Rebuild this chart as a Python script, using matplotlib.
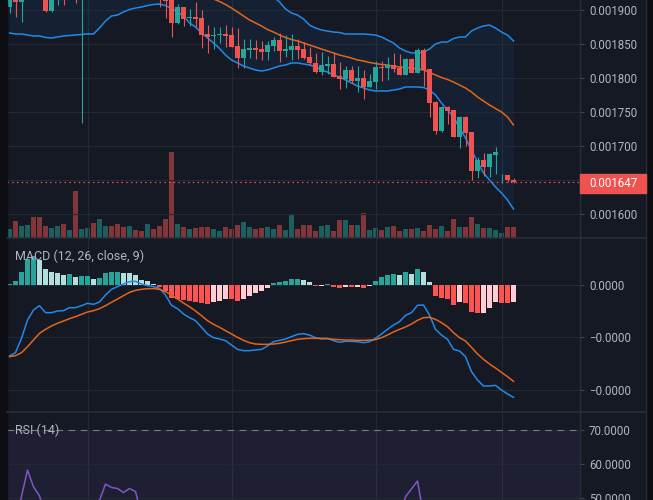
import numpy as np
import matplotlib.pyplot as plt
from matplotlib.patches import Rectangle
from matplotlib.lines import Line2D

plt.rcParams['font.family'] = ['Roboto', 'DejaVu Sans']

# ---- data (prices in units of 1e-6) ----
opens = [1904.9, 1920, 1912.2, 1925, 1930, 1932, 1925, 1898.5, 1920, 1926,
         1921, 1926, 1920, 1925, 1934, 1928, 1940, 1948, 1944, 1940,
         1936, 1946, 1942, 1938, 1944, 1930, 1925, 1916, 1880.4, 1904.4,
         1887.7, 1889.7, 1888.2, 1865.2, 1861.3, 1862.7, 1865.2, 1863.7, 1847.1, 1829.9,
         1841.7, 1844.1, 1842.6, 1838.7, 1847.1, 1855.9, 1840.2, 1841.2, 1847.5, 1842.6,
         1831.4, 1822.6, 1809.3, 1818.1, 1820.6, 1803.0, 1799.0, 1811.8, 1796.1, 1800.0,
         1787.2, 1794.6, 1816.2, 1815.2, 1819.1, 1814.7, 1804.9, 1827.9, 1807.8, 1841.2,
         1812.7, 1765.2, 1722.0, 1757.8, 1753.0, 1713.7, 1743.1, 1720.6, 1663.7, 1679.4,
         1669.6, 1687.2, 1655.4, 1657.3, 1649.5]
highs = [1922, 1925, 1924, 1935, 1936, 1938, 1930, 1926, 1930, 1930,
         1930, 1930, 1930, 1938, 1940, 1945, 1952, 1954, 1950, 1946,
         1952, 1950, 1948, 1950, 1948, 1935, 1930, 1920, 1908.8, 1905,
         1901.5, 1911.8, 1900.0, 1877.9, 1875.0, 1875.0, 1877.9, 1875.5, 1874.0, 1857.3,
         1857.3, 1855.9, 1854.4, 1854.4, 1860.8, 1865.7, 1863.2, 1864.7, 1857.3, 1852.4,
         1846.1, 1837.2, 1837.7, 1832.3, 1837.7, 1823.5, 1818.1, 1817.6, 1817.6, 1811.3,
         1805.9, 1824.5, 1825.0, 1831.4, 1837.2, 1835.3, 1828.9, 1828.9, 1843.6, 1843.6,
         1813.7, 1766.7, 1758.8, 1758.8, 1753.5, 1744.1, 1744.1, 1721.0, 1683.3, 1689.2,
         1689.2, 1698.5, 1658.8, 1657.3, 1652.4]
lows = [1896.1, 1890.2, 1882.8, 1918, 1920, 1921, 1897.5, 1897.5, 1907.8, 1907.8,
        1916, 1910.8, 1734.3, 1918, 1922, 1924, 1935, 1938, 1934, 1930,
        1932, 1936, 1932, 1934, 1930, 1904.9, 1888.7, 1860.8, 1879.4, 1877.0,
        1876.5, 1875.5, 1844.6, 1837.2, 1843.1, 1851.0, 1846.1, 1845.1, 1815.2, 1815.2,
        1829.9, 1827.4, 1826.5, 1826.5, 1839.7, 1824.0, 1830.4, 1826.5, 1827.4, 1827.4,
        1819.1, 1807.8, 1804.4, 1805.4, 1802.0, 1784.3, 1785.8, 1793.1, 1779.9, 1768.6,
        1786.3, 1784.3, 1795.6, 1797.1, 1809.3, 1804.9, 1804.9, 1806.9, 1806.9, 1788.2,
        1743.1, 1717.6, 1721.1, 1732.3, 1712.7, 1697.5, 1700.5, 1650.0, 1653.4, 1656.4,
        1654.9, 1658.8, 1645.6, 1646.6, 1645.0]
closes = [1918, 1912.2, 1920, 1930, 1928, 1926, 1898.5, 1922, 1926, 1921,
          1925, 1920, 1924, 1932, 1928, 1940, 1948, 1944, 1940, 1936,
          1946, 1942, 1938, 1944, 1936, 1922, 1913.2, 1881.4, 1904.4, 1886.8,
          1889.7, 1887.3, 1863.2, 1860.8, 1863.7, 1865.2, 1862.2, 1846.1, 1829.9, 1842.6,
          1844.1, 1841.7, 1838.7, 1848.5, 1855.9, 1839.7, 1842.6, 1847.5, 1841.2, 1829.9,
          1821.6, 1809.3, 1819.1, 1820.6, 1802.0, 1799.0, 1811.8, 1796.1, 1800.0, 1787.2,
          1796.1, 1816.2, 1814.7, 1819.1, 1813.2, 1804.9, 1827.9, 1806.9, 1841.2, 1811.8,
          1763.7, 1722.5, 1757.8, 1752.0, 1713.7, 1743.1, 1719.6, 1663.7, 1679.4, 1669.6,
          1688.2, 1691.2, 1656.4, 1650.0, 1647.0]
volume = [28, 52, 37, 40, 64, 64, 37, 31, 37, 43,
          25, 142, 28, 31, 46, 58, 37, 37, 43, 34,
          37, 25, 22, 43, 28, 37, 58, 259, 43, 34,
          28, 31, 34, 34, 28, 22, 34, 28, 40, 49,
          34, 28, 31, 34, 28, 40, 25, 70, 28, 40,
          40, 22, 37, 40, 22, 55, 55, 40, 40, 76,
          25, 31, 25, 34, 37, 22, 28, 28, 31, 22,
          40, 28, 37, 22, 58, 34, 34, 64, 43, 31,
          31, 25, 16, 34, 34]
bb_upper = [2000, 2002, 2004, 2006, 2008, 2010, 2012, 2014, 2015, 2016,
            2016, 2016, 2016, 2015, 2014, 2014, 2013, 2012, 2011, 2010,
            2008, 2006, 2004, 2002, 2000, 1998, 1996, 1993, 1990, 1986,
            1982, 1978, 1973, 1968, 1963, 1958, 1953, 1948, 1944, 1940,
            1936, 1932, 1928, 1924, 1919.1, 1911.8, 1901.5, 1895.6, 1892.6, 1886.8,
            1877.9, 1873.5, 1870.6, 1869.1, 1867.6, 1866.9, 1864.7, 1864.7, 1864.7, 1864.7,
            1864.0, 1863.2, 1860.3, 1855.9, 1851.5, 1844.1, 1839.7, 1836.8, 1836.8, 1838.2,
            1842.6, 1850.0, 1852.9, 1852.9, 1858.1, 1860.3, 1860.3, 1869.1, 1873.5, 1876.5,
            1877.9, 1873.5, 1867.6, 1863.2, 1854.4]
bb_basis = [1935, 1936, 1937, 1938, 1939, 1940, 1940, 1941, 1942, 1942,
            1943, 1943, 1944, 1944, 1945, 1946, 1947, 1948, 1949, 1950,
            1950, 1951, 1951, 1950, 1949, 1947, 1944, 1940, 1936, 1932,
            1929, 1926, 1923, 1920, 1916.2, 1912.5, 1908.1, 1902.9, 1897.1, 1891.2,
            1885.3, 1880.9, 1876.5, 1871.3, 1867.6, 1863.2, 1859.6, 1856.6, 1854.4, 1851.5,
            1848.5, 1845.6, 1842.6, 1839.7, 1836.8, 1833.8, 1831.6, 1829.4, 1826.5, 1825.0,
            1822.8, 1821.3, 1819.8, 1819.1, 1817.6, 1816.2, 1815.4, 1814.7, 1813.2, 1811.8,
            1808.1, 1804.4, 1800.7, 1797.8, 1794.1, 1789.7, 1785.3, 1779.4, 1772.1, 1766.2,
            1760.3, 1755.1, 1750.0, 1742.6, 1730.9]
bb_lower = [1866.2, 1864.7, 1864.7, 1863.2, 1861.8, 1861.8, 1859.6, 1858.8, 1860.3, 1861.8,
            1862.5, 1863.2, 1864.0, 1864.7, 1864.7, 1873.5, 1883.8, 1891.2, 1892.6, 1897.1,
            1900.7, 1902.9, 1904.4, 1906.6, 1908.1, 1908.8, 1906.6, 1902.2, 1897.1, 1891.2,
            1880.9, 1875.0, 1866.2, 1858.8, 1851.5, 1843.4, 1833.8, 1826.5, 1822.1, 1817.6,
            1814.7, 1811.8, 1810.3, 1811.8, 1814.7, 1817.6, 1819.1, 1822.1, 1822.1, 1820.6,
            1819.1, 1816.2, 1811.8, 1808.8, 1804.4, 1801.5, 1797.1, 1792.6, 1788.2, 1785.3,
            1782.3, 1780.9, 1780.9, 1780.9, 1782.3, 1783.8, 1786.8, 1786.8, 1786.8, 1786.0,
            1782.3, 1775.0, 1763.2, 1752.9, 1742.6, 1726.5, 1711.8, 1694.1, 1676.5, 1660.3,
            1650.0, 1639.7, 1630.9, 1620.6, 1607.3]
# MACD values in units of 1e-6
macd_hist = [0.19, 0.76, 2.48, 4.95, 5.52, 4.76, 3.05, 2.48, 2.29, 1.91,
             2.10, 1.52, 1.71, 1.75, 1.14, 1.33, 2.29, 2.48, 2.52, 2.29,
             2.29, 1.91, 0.95, 0.76, 0.19, -0.38, -1.14, -2.48, -2.67, -2.86,
             -3.05, -3.24, -3.43, -3.62, -3.24, -3.05, -2.67, -2.75, -3.05, -2.67,
             -2.10, -1.52, -1.14, -0.57, 0.38, 0.57, 0.76, 1.14, 1.20, 0.95,
             0.57, -0.15, -0.10, 0.19, -0.38, -0.57, -0.38, -0.42, -0.36, -0.57,
             -0.13, 0.76, 1.52, 1.91, 2.10, 1.91, 2.48, 2.10, 3.05, 2.48,
             0.57, -2.10, -2.48, -2.67, -3.81, -3.24, -3.37, -5.14, -5.33, -5.25,
             -4.38, -3.24, -3.43, -3.50, -3.24]
macd_line = [-13.53, -12.89, -10.16, -6.67, -4.76, -3.94, -5.27, -5.27, -4.95, -4.89,
             -4.32, -4.32, -3.94, -3.49, -3.68, -3.24, -1.91, -0.83, -0.32, 0.19,
             0.64, 0.70, 0.19, -0.13, -0.32, -0.64, -1.91, -3.87, -4.51, -5.52,
             -6.22, -6.79, -8.06, -9.33, -10.03, -10.29, -10.60, -11.43, -12.26, -12.51,
             -12.51, -12.38, -12.26, -11.62, -10.80, -10.54, -10.29, -9.84, -9.40, -9.27,
             -9.53, -10.03, -10.29, -10.16, -10.60, -10.92, -10.73, -10.73, -10.80, -10.99,
             -10.80, -10.16, -9.33, -8.45, -7.62, -6.99, -5.78, -5.27, -3.87, -3.81,
             -5.72, -8.45, -9.53, -10.35, -12.26, -12.57, -13.65, -16.51, -18.10, -19.24,
             -19.24, -19.11, -20.00, -20.76, -21.40]
macd_signal = [-13.65, -13.46, -12.89, -11.75, -10.48, -9.21, -8.45, -7.81, -7.30, -6.86,
               -6.41, -6.03, -5.59, -5.14, -4.89, -4.51, -3.94, -3.30, -2.67, -2.03,
               -1.40, -1.02, -0.83, -0.70, -0.70, -0.83, -1.27, -1.91, -2.67, -3.43,
               -4.13, -4.95, -5.84, -6.79, -7.49, -8.06, -8.70, -9.33, -9.97, -10.54,
               -10.99, -11.24, -11.30, -11.30, -11.24, -11.11, -10.86, -10.60, -10.35, -10.22,
               -10.16, -10.16, -10.16, -10.22, -10.35, -10.41, -10.48, -10.48, -10.54, -10.54,
               -10.48, -10.41, -10.03, -9.53, -8.95, -8.45, -8.00, -7.43, -6.73, -6.22,
               -6.16, -6.54, -7.18, -7.94, -9.08, -10.03, -10.67, -11.87, -13.14, -14.16,
               -15.05, -15.81, -16.64, -17.46, -18.35]
rsi = [42, 42, 50.5, 58.2, 53.3, 50.6, 45, 44, 43, 42,
       41, 40, 43, 44, 45, 49.3, 54.1, 53.1, 52.8, 51.6,
       52.8, 51.9, 45, 44, 42, 40, 38, 33, 37, 35,
       36, 35, 31, 30, 31, 33, 32, 29, 27, 32,
       33, 32, 31, 33, 36, 34, 35, 37, 35, 33,
       31, 28, 31, 32, 29, 27, 31, 29, 32, 30,
       33, 38, 39, 41, 40, 44, 50.4, 52.7, 55.0, 45,
       34, 27, 33, 31, 26, 31, 29, 22, 26, 25,
       28, 30, 25, 24, 23]
last_price = 1647.0
price_ticks = [1600, 1650, 1700, 1750, 1800, 1850, 1900]
macd_ticks = [0, -10, -20]
macd_labels = ['0.0000', '\u22120.0000', '\u22120.0000']
rsi_ticks = [50, 60, 70]
vgrid_idx = [13, 37, 61, 82]

# ---- style ----
BG = '#151924'
GRID = '#242833'
TXT = '#b2b5be'
UP, DOWN = '#26a69a', '#ef5350'

sc = 1e-6
o, h, l, c = (np.array(a) * sc for a in (opens, highs, lows, closes))
x = np.arange(len(o))
up = c >= o

W, H = 653, 500
fig = plt.figure(figsize=(W / 100, H / 100), dpi=100, facecolor=BG)


def box(x0, y0, x1, y1):
    return [x0 / W, 1 - y1 / H, (x1 - x0) / W, (y1 - y0) / H]


ax_p = fig.add_axes(box(7, 0, 580, 238))
ax_m = fig.add_axes(box(7, 238, 580, 412))
ax_r = fig.add_axes(box(7, 412, 580, 500))

# volume sits on a twin axis behind the candles
ax_v = ax_p.twinx()
ax_p.set_zorder(ax_v.get_zorder() + 1)
ax_v.patch.set_visible(True)
ax_v.set_facecolor(BG)

for ax in (ax_p, ax_m, ax_r):
    ax.set_facecolor(BG)
    for s in ax.spines.values():
        s.set_visible(False)
    ax.set_xlim(-0.4167, 95.083)
    ax.set_xticks([])
    ax.yaxis.tick_right()
    ax.tick_params(axis='y', colors='#434651', labelcolor=TXT, labelsize=8.3,
                   length=3, pad=3.5, width=0.8)
    ax.grid(axis='y', color=GRID, lw=0.9)
    for k in vgrid_idx:
        ax.axvline(k, color=GRID, lw=0.9, zorder=0)
ax_p.patch.set_visible(False)

ax_v.bar(x, volume, width=0.83, color=np.where(up, UP, DOWN), alpha=0.5, lw=0)
ax_v.set_ylim(0, 714)
ax_v.set_xlim(-0.4167, 95.083)
ax_v.set_xticks([])
ax_v.set_yticks([])
for s in ax_v.spines.values():
    s.set_visible(False)

# bollinger bands
up_b = np.array(bb_upper) * sc
mid_b = np.array(bb_basis) * sc
lo_b = np.array(bb_lower) * sc
ax_p.fill_between(x, lo_b, up_b, color='#2196f3', alpha=0.07, lw=0)
ax_p.plot(x, up_b, color='#2388e8', lw=1.1)
ax_p.plot(x, lo_b, color='#2388e8', lw=1.1)
ax_p.plot(x, mid_b, color='#e3651b', lw=1.1)

# candles
cols = np.where(up, UP, DOWN)
ax_p.vlines(x, l, h, colors=cols, lw=0.8, zorder=3)
body_lo = np.minimum(o, c)
body_h = np.maximum(np.abs(c - o), 0.9 * sc)
ax_p.bar(x, body_h, bottom=body_lo, width=0.83, color=cols, lw=0, zorder=4)

ax_p.axhline(last_price * sc, color=DOWN, lw=0.9, ls=(0, (1.2, 2.6)), zorder=5)
ax_p.set_ylim(1564.7 * sc, 1914.7 * sc)
ax_p.set_yticks(np.array(price_ticks) * sc)
# the 0.001650 label sits under the last-price tag, so leave it blank
ax_p.set_yticklabels(['' if t == 1650 else f'{t * sc:.6f}' for t in price_ticks])

# MACD
hist = np.array(macd_hist)
prev = np.concatenate([[hist[0] - 1], hist[:-1]])
hcols = np.where(hist >= 0, np.where(hist > prev, '#26a69a', '#b2dfdb'),
                 np.where(hist < prev, '#ff5252', '#ffcdd2'))
ax_m.bar(x, hist * sc, width=0.83, color=hcols, lw=0, zorder=2)
ax_m.plot(x, np.array(macd_line) * sc, color='#2388e8', lw=1.1, zorder=3)
ax_m.plot(x, np.array(macd_signal) * sc, color='#e3651b', lw=1.1, zorder=3)
ax_m.set_ylim(-24.19 * sc, 8.95 * sc)
ax_m.set_yticks(np.array(macd_ticks) * sc)
ax_m.set_yticklabels(macd_labels)
ax_m.text(8 / 573, 1 - 18 / 174, 'MACD (12, 26, close, 9)', transform=ax_m.transAxes,
          color=TXT, fontsize=9, va='center', ha='left')

# RSI
ax_r.axhspan(30, 70, color='#7e57c2', alpha=0.1, lw=0)
ax_r.axhline(70, color='#787b86', lw=0.8, ls=(0, (6, 5)))
ax_r.plot(x, rsi, color='#7e57c2', lw=1.1)
ax_r.set_ylim(49.41, 75.29)
ax_r.set_yticks(rsi_ticks)
ax_r.set_yticklabels([f'{t:.4f}' for t in rsi_ticks])
ax_r.text(8 / 573, 1 - 18 / 88, 'RSI (14)', transform=ax_r.transAxes,
          color=TXT, fontsize=9, va='center', ha='left')

# frame lines and side strips
fig.patches.append(Rectangle((0, 0), 7 / W, 1, transform=fig.transFigure,
                             color='#0c0e13', zorder=1))
fig.patches.append(Rectangle((646 / W, 0), 7 / W, 1, transform=fig.transFigure,
                             color='#0c0e13', zorder=1))
for yy in (238, 412):
    fig.lines.append(Line2D([7 / W, 646 / W], [1 - yy / H] * 2, transform=fig.transFigure,
                            color='#2a2e39', lw=1.2))
for xx in (580, 646):
    fig.lines.append(Line2D([xx / W] * 2, [0, 1], transform=fig.transFigure,
                            color='#2a2e39', lw=1))

# last price label
fig.patches.append(Rectangle((580 / W, 1 - 193 / H), 66 / W, 19 / H,
                             transform=fig.transFigure, color=DOWN, zorder=5))
fig.text(589 / W, 1 - 183.5 / H, f'{last_price * sc:.6f}', color='white',
         fontsize=8.3, va='center', ha='left', zorder=6)

fig.savefig('out.png', dpi=100, facecolor=BG)
